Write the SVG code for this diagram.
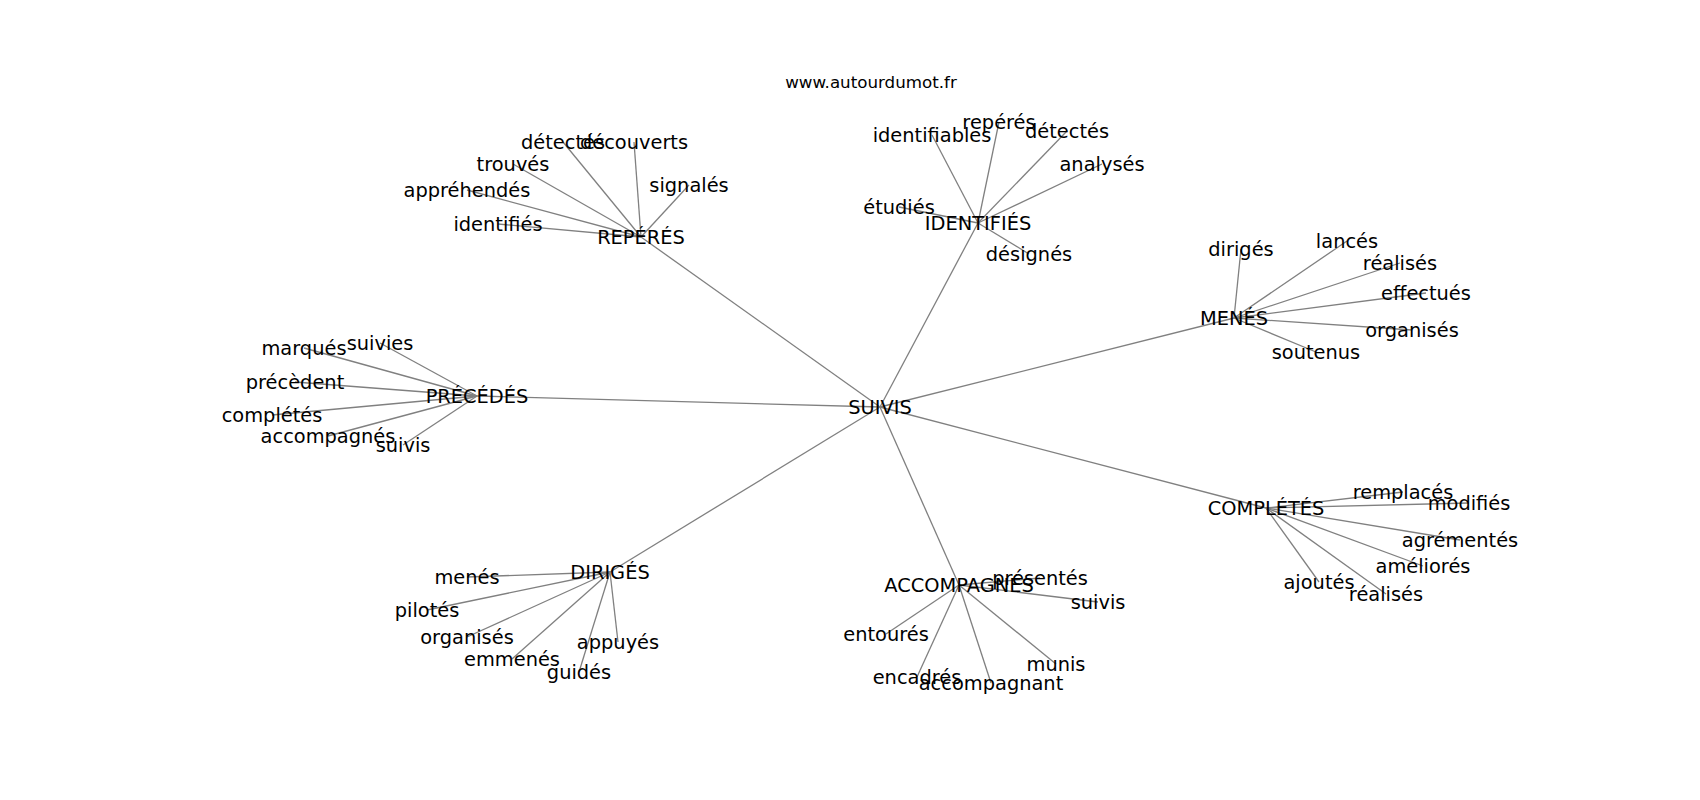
<svg xmlns="http://www.w3.org/2000/svg" width="1700" height="800" viewBox="0 0 1700 800">
<style>
.edge{stroke:#808080;stroke-width:1.3;fill:none}
.lbl{font-family:"DejaVu Sans",sans-serif;font-size:19.4px;fill:#000;text-anchor:middle;dominant-baseline:central}
.title{font-family:"DejaVu Sans",sans-serif;font-size:16.7px;fill:#000;text-anchor:middle;dominant-baseline:central}
</style>
<rect width="1700" height="800" fill="#fff"/>
<text class="title" x="871" y="82">www.autourdumot.fr</text>
<g id="edges">
<line class="edge" x1="880" y1="407" x2="641" y2="237"/>
<line class="edge" x1="880" y1="407" x2="978" y2="223"/>
<line class="edge" x1="880" y1="407" x2="1234" y2="318"/>
<line class="edge" x1="880" y1="407" x2="477" y2="396"/>
<line class="edge" x1="880" y1="407" x2="1266" y2="508"/>
<line class="edge" x1="880" y1="407" x2="610" y2="572"/>
<line class="edge" x1="880" y1="407" x2="959" y2="585"/>
<line class="edge" x1="641" y1="237" x2="563" y2="142"/>
<line class="edge" x1="641" y1="237" x2="634" y2="142"/>
<line class="edge" x1="641" y1="237" x2="513" y2="164"/>
<line class="edge" x1="641" y1="237" x2="689" y2="185"/>
<line class="edge" x1="641" y1="237" x2="467" y2="190"/>
<line class="edge" x1="641" y1="237" x2="498" y2="224"/>
<line class="edge" x1="978" y1="223" x2="932" y2="135"/>
<line class="edge" x1="978" y1="223" x2="999" y2="122"/>
<line class="edge" x1="978" y1="223" x2="1067" y2="131"/>
<line class="edge" x1="978" y1="223" x2="1102" y2="164"/>
<line class="edge" x1="978" y1="223" x2="899" y2="207"/>
<line class="edge" x1="978" y1="223" x2="1029" y2="254"/>
<line class="edge" x1="1234" y1="318" x2="1241" y2="249"/>
<line class="edge" x1="1234" y1="318" x2="1347" y2="241"/>
<line class="edge" x1="1234" y1="318" x2="1400" y2="263"/>
<line class="edge" x1="1234" y1="318" x2="1426" y2="293"/>
<line class="edge" x1="1234" y1="318" x2="1412" y2="330"/>
<line class="edge" x1="1234" y1="318" x2="1316" y2="352"/>
<line class="edge" x1="477" y1="396" x2="304" y2="348"/>
<line class="edge" x1="477" y1="396" x2="380" y2="343"/>
<line class="edge" x1="477" y1="396" x2="295" y2="382"/>
<line class="edge" x1="477" y1="396" x2="272" y2="415"/>
<line class="edge" x1="477" y1="396" x2="328" y2="436"/>
<line class="edge" x1="477" y1="396" x2="403" y2="445"/>
<line class="edge" x1="1266" y1="508" x2="1403" y2="492"/>
<line class="edge" x1="1266" y1="508" x2="1469" y2="503"/>
<line class="edge" x1="1266" y1="508" x2="1460" y2="540"/>
<line class="edge" x1="1266" y1="508" x2="1423" y2="566"/>
<line class="edge" x1="1266" y1="508" x2="1319" y2="582"/>
<line class="edge" x1="1266" y1="508" x2="1386" y2="594"/>
<line class="edge" x1="610" y1="572" x2="467" y2="577"/>
<line class="edge" x1="610" y1="572" x2="427" y2="610"/>
<line class="edge" x1="610" y1="572" x2="467" y2="637"/>
<line class="edge" x1="610" y1="572" x2="512" y2="659"/>
<line class="edge" x1="610" y1="572" x2="618" y2="642"/>
<line class="edge" x1="610" y1="572" x2="579" y2="672"/>
<line class="edge" x1="959" y1="585" x2="1040" y2="578"/>
<line class="edge" x1="959" y1="585" x2="1098" y2="602"/>
<line class="edge" x1="959" y1="585" x2="886" y2="634"/>
<line class="edge" x1="959" y1="585" x2="917" y2="677"/>
<line class="edge" x1="959" y1="585" x2="991" y2="683"/>
<line class="edge" x1="959" y1="585" x2="1056" y2="664"/>
</g>
<g id="n-suivis"><text class="lbl" x="880" y="407">SUIVIS</text></g>
<g id="n-reperes"><text class="lbl" x="641" y="237">REPÉRÉS</text></g>
<g id="n-reperes-detectes"><text class="lbl" x="563" y="142">détectés</text></g>
<g id="n-reperes-decouverts"><text class="lbl" x="634" y="142">découverts</text></g>
<g id="n-reperes-trouves"><text class="lbl" x="513" y="164">trouvés</text></g>
<g id="n-reperes-signales"><text class="lbl" x="689" y="185">signalés</text></g>
<g id="n-reperes-apprehendes"><text class="lbl" x="467" y="190">appréhendés</text></g>
<g id="n-reperes-identifies"><text class="lbl" x="498" y="224">identifiés</text></g>
<g id="n-identifies"><text class="lbl" x="978" y="223">IDENTIFIÉS</text></g>
<g id="n-identifies-identifiables"><text class="lbl" x="932" y="135">identifiables</text></g>
<g id="n-identifies-reperes"><text class="lbl" x="999" y="122">repérés</text></g>
<g id="n-identifies-detectes"><text class="lbl" x="1067" y="131">détectés</text></g>
<g id="n-identifies-analyses"><text class="lbl" x="1102" y="164">analysés</text></g>
<g id="n-identifies-etudies"><text class="lbl" x="899" y="207">étudiés</text></g>
<g id="n-identifies-designes"><text class="lbl" x="1029" y="254">désignés</text></g>
<g id="n-menes"><text class="lbl" x="1234" y="318">MENÉS</text></g>
<g id="n-menes-diriges"><text class="lbl" x="1241" y="249">dirigés</text></g>
<g id="n-menes-lances"><text class="lbl" x="1347" y="241">lancés</text></g>
<g id="n-menes-realises"><text class="lbl" x="1400" y="263">réalisés</text></g>
<g id="n-menes-effectues"><text class="lbl" x="1426" y="293">effectués</text></g>
<g id="n-menes-organises"><text class="lbl" x="1412" y="330">organisés</text></g>
<g id="n-menes-soutenus"><text class="lbl" x="1316" y="352">soutenus</text></g>
<g id="n-precedes"><text class="lbl" x="477" y="396">PRÉCÉDÉS</text></g>
<g id="n-precedes-marques"><text class="lbl" x="304" y="348">marqués</text></g>
<g id="n-precedes-suivies"><text class="lbl" x="380" y="343">suivies</text></g>
<g id="n-precedes-precedent"><text class="lbl" x="295" y="382">précèdent</text></g>
<g id="n-precedes-completes"><text class="lbl" x="272" y="415">complétés</text></g>
<g id="n-precedes-accompagnes"><text class="lbl" x="328" y="436">accompagnés</text></g>
<g id="n-precedes-suivis"><text class="lbl" x="403" y="445">suivis</text></g>
<g id="n-completes"><text class="lbl" x="1266" y="508">COMPLÉTÉS</text></g>
<g id="n-completes-remplaces"><text class="lbl" x="1403" y="492">remplacés</text></g>
<g id="n-completes-modifies"><text class="lbl" x="1469" y="503">modifiés</text></g>
<g id="n-completes-agrementes"><text class="lbl" x="1460" y="540">agrémentés</text></g>
<g id="n-completes-ameliores"><text class="lbl" x="1423" y="566">améliorés</text></g>
<g id="n-completes-ajoutes"><text class="lbl" x="1319" y="582">ajoutés</text></g>
<g id="n-completes-realises"><text class="lbl" x="1386" y="594">réalisés</text></g>
<g id="n-diriges"><text class="lbl" x="610" y="572">DIRIGÉS</text></g>
<g id="n-diriges-menes"><text class="lbl" x="467" y="577">menés</text></g>
<g id="n-diriges-pilotes"><text class="lbl" x="427" y="610">pilotés</text></g>
<g id="n-diriges-organises"><text class="lbl" x="467" y="637">organisés</text></g>
<g id="n-diriges-emmenes"><text class="lbl" x="512" y="659">emmenés</text></g>
<g id="n-diriges-appuyes"><text class="lbl" x="618" y="642">appuyés</text></g>
<g id="n-diriges-guides"><text class="lbl" x="579" y="672">guidés</text></g>
<g id="n-accompagnes"><text class="lbl" x="959" y="585">ACCOMPAGNÉS</text></g>
<g id="n-accompagnes-presentes"><text class="lbl" x="1040" y="578">présentés</text></g>
<g id="n-accompagnes-suivis"><text class="lbl" x="1098" y="602">suivis</text></g>
<g id="n-accompagnes-entoures"><text class="lbl" x="886" y="634">entourés</text></g>
<g id="n-accompagnes-encadres"><text class="lbl" x="917" y="677">encadrés</text></g>
<g id="n-accompagnes-accompagnant"><text class="lbl" x="991" y="683">accompagnant</text></g>
<g id="n-accompagnes-munis"><text class="lbl" x="1056" y="664">munis</text></g>
</svg>
